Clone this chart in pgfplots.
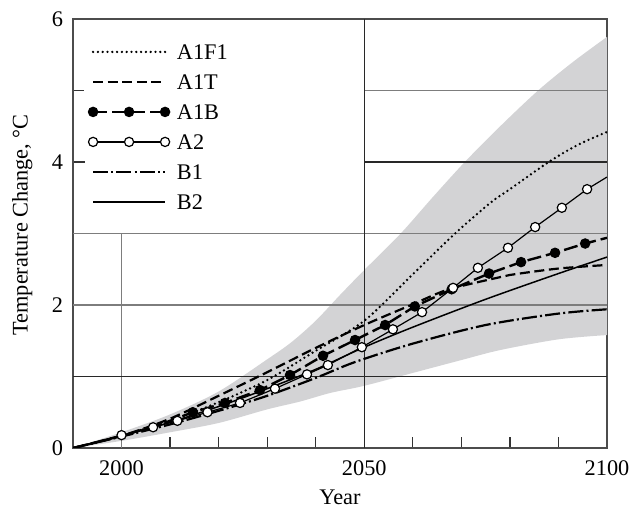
\documentclass[border=0pt]{standalone}
\usepackage{fontspec}
\setmainfont{Liberation Serif}
\usepackage{pgfplots}
\pgfplotsset{compat=1.18}
\usepgfplotslibrary{fillbetween}

\definecolor{band}{RGB}{211,211,213}
\definecolor{gridgray}{RGB}{125,125,125}
\definecolor{griddark}{RGB}{40,40,40}

\pgfplotsset{
  sA1F1/.style={black, line width=1.3bp, line cap=round, dash pattern=on 0bp off 2.4bp},
  sA1T/.style={black, line width=1.1bp, dash pattern=on 5bp off 2.3bp},
  sA1B/.style={black, line width=1.2bp, dash pattern=on 7bp off 2.5bp,
    mark=*, mark size=2bp, mark options={solid, fill=black}},
  sA2/.style={black, line width=0.6bp,
    mark=*, mark size=2.3bp, mark options={solid, fill=white, draw=black}},
  sB1/.style={black, line width=1.1bp, dash pattern=on 7.5bp off 1.6bp on 1bp off 1.6bp},
  sB2/.style={black, line width=0.75bp},
}

\begin{document}
\begin{tikzpicture}[font=\fontsize{11.2}{13.4}\selectfont]
\begin{axis}[
  scale only axis,
  width=267bp, height=214.5bp,
  xmin=1990, xmax=2100, ymin=0, ymax=6,
  axis line style={draw=black!70, line width=0.7bp},
  xtick={2000,2050,2100}, ytick={0,2,4,6},
  minor xtick={2010,2020,2030,2040,2060,2070,2080,2090},
  minor ytick={1,3,5},
  tick align=inside, tick pos=left,
  major tick length=6bp, minor tick length=5.5bp,
  tick style={black!80, line width=0.6bp},
  /pgf/number format/assume math mode=true,
  /pgf/number format/1000 sep={},
  xticklabel style={anchor=center, yshift=-10bp},
  yticklabel style={anchor=center, xshift=-7.75bp},
  xlabel={Year},
  ylabel={Temperature Change, °C},
  xlabel style={at={(axis description cs:0.5,-0.115)}, anchor=center},
  ylabel style={at={(axis description cs:-0.095,0.52)}, anchor=center},
  legend image code/.code={%
    \draw[#1] plot coordinates {(0bp,0bp) (18bp,0bp) (36bp,0bp)};},
  legend cell align=left,
  legend style={at={(axis description cs:0.029,0.941)}, anchor=north west,
    draw=none, fill=none, inner sep=0pt, outer sep=0pt,
    row sep=7.4bp, column sep=3.6bp,
    nodes={inner sep=0pt, text height=7.6bp, text depth=0bp}},
]

% uncertainty band
\addplot[name path=up, draw=none, smooth, forget plot] coordinates {
  (1990,0) (2000,0.22) (2010,0.47) (2020,0.79) (2030,1.24) (2035,1.48)
  (2040,1.78) (2045,2.14) (2050,2.49) (2057.5,3.0) (2064,3.5)
  (2070.7,4.0) (2078,4.5) (2085.8,5.0) (2093,5.4) (2100,5.75)
};
\addplot[name path=lo, draw=none, smooth, forget plot] coordinates {
  (1990,0) (2000,0.10) (2010,0.22) (2020,0.35) (2030,0.54) (2036.8,0.65)
  (2043,0.77) (2050,0.87) (2060,1.05) (2070,1.23) (2078,1.37)
  (2090,1.52) (2100,1.58)
};
\addplot[band, draw=none, forget plot] fill between[of=up and lo];

% table-like grid
\draw[gridgray, line width=0.7bp] (1990,2) -- (2100,2);
\draw[gridgray, line width=0.7bp] (1990,3) -- (2100,3);
\draw[gridgray, line width=0.7bp] (2050,5) -- (2100,5);
\draw[gridgray, line width=0.7bp] (2000,0) -- (2000,3);
\draw[griddark, line width=0.6bp] (1990,1) -- (2100,1);
\draw[griddark, line width=0.6bp] (2050,4) -- (2100,4);
\draw[griddark, line width=0.6bp] (2050,0) -- (2050,6);

% A1F1
\addplot[sA1F1, smooth, forget plot] coordinates {
  (1990,0) (2000,0.17) (2010,0.38) (2020,0.64) (2030,0.95) (2040,1.36)
  (2050,1.78) (2060,2.43) (2068.7,3.0) (2076,3.43) (2080,3.62)
  (2088,4.0) (2094,4.24) (2100,4.42)
};
% A1T
\addplot[sA1T, smooth, forget plot] coordinates {
  (1990,0) (2000,0.17) (2010,0.41) (2020,0.73) (2030,1.06) (2040,1.40)
  (2050,1.72) (2060,2.01) (2067,2.21) (2076,2.36) (2080,2.42)
  (2090,2.51) (2100,2.56)
};
% A1B
\addplot[sA1B, mark indices={4,...,16}, forget plot] coordinates {
  (1990,0) (2000,0.17) (2008,0.33) (2014.7,0.50) (2021.3,0.63)
  (2028.5,0.81) (2034.7,1.02) (2041.5,1.29) (2048.1,1.51) (2054.3,1.72)
  (2060.4,1.98) (2068.0,2.22) (2075.7,2.44) (2082.3,2.60) (2089.3,2.73)
  (2095.5,2.86) (2100,2.94)
};
% B1
\addplot[sB1, smooth, forget plot] coordinates {
  (1990,0) (2000,0.16) (2010,0.33) (2020,0.52) (2030,0.73) (2040,0.98)
  (2048,1.20) (2060,1.46) (2075,1.72) (2090,1.88) (2100,1.94)
};
% B2
\addplot[sB2, smooth, forget plot] coordinates {
  (1990,0) (2000,0.17) (2010,0.36) (2020,0.58) (2030,0.83) (2040,1.10)
  (2050,1.41) (2060,1.69) (2075,2.08) (2090,2.44) (2100,2.67)
};
% A2
\addplot[sA2, mark indices={2,...,18}, forget plot] coordinates {
  (1990,0) (2000,0.18) (2006.5,0.29) (2011.5,0.38) (2017.7,0.50)
  (2024.4,0.63) (2031.6,0.83) (2038.2,1.03) (2042.5,1.16) (2049.5,1.41)
  (2055.9,1.66) (2061.9,1.90) (2068.3,2.24) (2073.4,2.52) (2079.6,2.80)
  (2085.2,3.09) (2090.7,3.36) (2095.9,3.62) (2100,3.79)
};

\addlegendimage{sA1F1}\addlegendentry{A1F1}
\addlegendimage{sA1T}\addlegendentry{A1T}
\addlegendimage{sA1B}\addlegendentry{A1B}
\addlegendimage{sA2}\addlegendentry{A2}
\addlegendimage{sB1}\addlegendentry{B1}
\addlegendimage{sB2}\addlegendentry{B2}
\end{axis}
\pgfresetboundingbox
\useasboundingbox (-36.5bp,-33bp) rectangle (279bp,224bp);
\end{tikzpicture}
\end{document}
